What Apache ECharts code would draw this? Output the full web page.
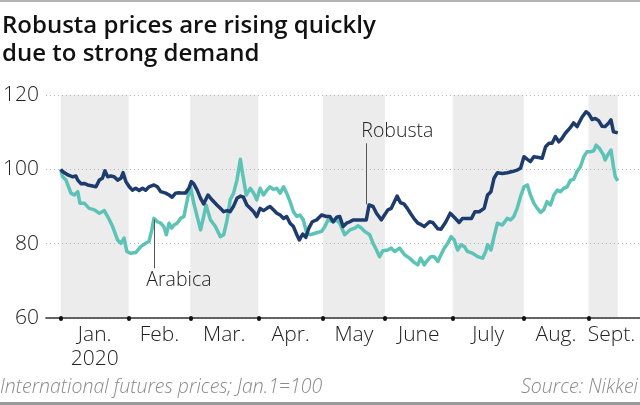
<!DOCTYPE html>
<html><head><meta charset="utf-8">
<script src="https://cdn.jsdelivr.net/npm/echarts@6/dist/echarts.min.js"></script>
<style>html,body{margin:0;padding:0;background:#fff}#c{width:640px;height:405px}</style>
</head><body><div id="c"></div>
<script>
// x = trading-day index since Jan. 1, 2020
const monthNames = ['Jan.\n2020','Feb.','Mar.','Apr.','May','June','July','Aug.','Sept.'];
const monthStarts = [0,22,42,64,85,105,127,150,171,186];
const shadedMonths = [0,2,4,6,8];
const lastDay = 180.5;
const yTicks = [60,80,100,120];

const robusta = [
[0,100],[0.6,99.4],[2.3,98.5],[3.9,98.0],[4.9,98.2],[5.5,97.1],[6.6,96.1],[7.6,96.2],[8.7,95.8],[10.3,95.5],[11.4,95.3],[12.5,97.1],[13.5,97.6],[14.3,99.6],[15.2,98.0],[16.2,98.2],[17.3,98.0],[18.4,97.1],[19.5,97.6],[20.2,99.1],[21.1,96.7],[22.2,95.3],[23.2,94.4],[24.3,94.9],[25.4,94.3],[26.5,94.9],[27.5,94.4],[28.6,95.3],[30.2,95.8],[31.3,95.3],[32.4,94.0],[34.0,93.6],[35.1,93.1],[36.1,92.5],[37.2,93.6],[38.3,93.7],[39.4,93.6],[40.4,93.6],[41.5,94.9],[42.3,96.7],[43.1,96.1],[44.2,94.4],[45.3,92.2],[46.3,90.7],[47.7,93.1],[49.0,91.8],[50.6,90.4],[51.7,89.5],[52.8,88.6],[53.9,88.9],[54.9,88.6],[56.0,90.1],[57.1,92.2],[58.2,92.8],[59.2,92.5],[60.3,90.4],[61.4,89.5],[62.5,88.6],[63.5,87.3],[64.6,89.5],[65.7,88.9],[66.8,89.5],[67.8,90.0],[68.9,89.1],[70.0,88.2],[71.1,87.7],[72.2,86.8],[73.2,87.3],[74.3,85.5],[75.4,84.6],[76.5,82.4],[77.3,81.0],[78.4,82.6],[79.4,81.7],[80.4,84.2],[81.5,85.9],[82.9,86.4],[84.5,87.7],[86.1,87.3],[87.2,87.3],[88.3,85.9],[89.4,87.1],[90.4,87.3],[91.5,84.6],[92.6,85.5],[93.7,85.9],[94.7,86.4],[96.3,86.4],[98.0,86.4],[99.0,86.4],[99.9,90.4],[101.2,90.0],[102.3,88.2],[103.9,86.4],[104.9,87.7],[106.0,89.1],[107.1,89.5],[109.0,92.8],[110.1,91.0],[111.2,90.7],[112.3,89.5],[113.3,88.2],[114.6,86.6],[115.7,85.5],[116.8,85.1],[117.8,84.6],[119.5,85.9],[120.5,85.7],[122.2,84.0],[123.2,83.9],[124.8,85.9],[126.2,88.2],[127.5,87.1],[129.1,85.7],[130.2,86.8],[131.8,86.8],[133.1,86.8],[134.2,88.6],[135.6,88.6],[137.2,89.5],[138.3,93.1],[139.4,94.0],[140.4,97.6],[141.5,99.1],[143.1,98.9],[144.7,99.1],[146.3,99.4],[147.9,99.8],[149.0,100.3],[150.1,103.4],[151.2,102.7],[152.2,102.1],[153.3,103.4],[154.9,103.2],[156.0,103.0],[157.1,106.1],[158.2,107.0],[159.2,107.0],[160.3,108.8],[161.4,107.4],[162.4,108.3],[163.5,109.7],[164.9,111.0],[166.2,112.5],[167.3,111.5],[168.9,114.0],[170.2,115.5],[171.1,114.9],[172.2,113.4],[173.2,113.7],[174.3,113.1],[175.4,111.6],[176.4,111.5],[177.5,112.4],[178.3,113.3],[179.1,110.1],[180.5,109.8]
];

const arabica = [
[0,100],[0.6,98.0],[1.7,97.1],[3.3,93.6],[4.4,93.1],[5.5,94.0],[6.2,90.9],[7.6,90.9],[9.2,89.5],[10.9,89.1],[12.5,88.2],[14.1,88.9],[15.2,87.3],[16.8,84.6],[18.4,81.0],[19.5,80.1],[20.5,81.5],[21.4,77.9],[22.7,77.4],[24.3,77.6],[25.9,79.2],[27.5,80.1],[28.6,80.6],[29.5,83.7],[30.2,86.8],[31.3,85.9],[32.4,85.5],[33.4,84.6],[34.2,82.4],[35.1,85.5],[35.9,84.2],[36.7,85.0],[37.7,85.5],[38.8,86.8],[39.9,87.3],[41.0,91.8],[42.0,95.5],[43.1,90.9],[45.3,83.7],[46.3,87.3],[47.1,90.4],[48.5,86.4],[50.1,84.6],[51.7,81.9],[52.8,82.4],[53.9,86.4],[54.9,91.8],[56.0,93.6],[57.1,97.1],[58.2,102.7],[58.9,98.9],[60.1,93.1],[61.4,94.9],[62.5,93.6],[63.5,91.8],[64.6,94.9],[65.7,93.1],[66.8,94.4],[67.8,95.3],[68.9,94.6],[70.0,94.9],[71.1,93.6],[72.2,95.3],[73.2,93.6],[74.3,91.3],[75.4,88.6],[76.5,87.3],[77.5,87.7],[78.6,86.4],[79.7,82.8],[80.8,82.4],[82.4,82.8],[84.5,83.3],[85.6,84.6],[86.6,86.4],[88.3,85.9],[89.4,86.4],[90.4,85.5],[92.0,82.4],[93.7,83.7],[95.3,84.2],[96.3,84.8],[97.4,84.2],[98.5,83.3],[100.1,82.4],[101.2,80.1],[102.3,78.3],[103.3,76.5],[104.4,78.1],[106.0,78.3],[107.1,78.8],[108.2,77.9],[109.8,78.8],[111.4,77.0],[113.0,76.1],[114.6,74.9],[115.7,74.3],[116.6,76.1],[117.8,74.3],[118.9,75.6],[119.9,76.5],[121.0,76.5],[122.2,75.2],[123.2,77.0],[124.3,78.8],[125.4,80.1],[126.5,81.9],[127.5,81.0],[128.6,78.3],[129.7,79.7],[130.8,79.2],[131.8,77.9],[133.5,77.4],[135.1,76.5],[136.7,76.1],[137.7,77.9],[138.3,79.7],[139.4,78.3],[140.4,81.9],[141.5,85.5],[143.1,85.0],[144.7,86.8],[145.8,86.4],[146.8,87.3],[147.9,89.5],[149.0,92.7],[150.1,95.3],[151.2,95.8],[152.2,93.1],[153.3,90.9],[154.4,89.5],[155.5,88.4],[156.5,89.1],[157.6,91.3],[158.7,90.4],[159.8,93.1],[160.9,94.4],[161.9,94.0],[163.0,94.9],[164.1,95.3],[165.2,97.1],[166.2,97.3],[167.3,99.4],[168.4,100.7],[169.5,103.4],[170.5,104.7],[171.6,104.7],[172.7,105.0],[173.5,106.5],[174.6,105.6],[175.9,103.8],[176.4,102.5],[177.2,103.8],[178.3,105.2],[179.1,100.7],[179.7,98.0],[180.5,96.9]
];

const labelFont = '"Open Sans", Lato, sans-serif';
const titleFont = '"Open Sans", Lato, sans-serif';
const mids = monthNames.map((n, k) => (monthStarts[k] + monthStarts[k + 1]) / 2);
const tickVals = monthStarts.slice(0, 9);
const bands = shadedMonths.map(k => [
  { xAxis: monthStarts[k], yAxis: 60 },
  { xAxis: Math.min(monthStarts[k + 1], lastDay), yAxis: 120 }
]);

const chart = echarts.init(document.getElementById('c'), null, { renderer: 'canvas' });
chart.setOption({
  animation: false,
  backgroundColor: '#fff',
  grid: { left: 43, right: 0, top: 95, bottom: 87, containLabel: false },
  xAxis: {
    type: 'value', min: -4.8, max: 187.7, z: 1.5,
    splitLine: { show: false },
    axisLine: { show: true, onZero: false, lineStyle: { color: '#333', width: 1.5 } },
    axisTick: { show: true, customValues: tickVals, length: 1, lineStyle: { color: '#111', width: 4, cap: 'round' } },
    axisLabel: {
      show: true, customValues: mids, margin: 5,
      fontFamily: labelFont, fontWeight: 300, fontSize: 21, color: '#222', lineHeight: 24,
      formatter: v => monthNames[mids.indexOf(v)] || ''
    }
  },
  yAxis: {
    type: 'value', min: 60, max: 120, interval: 20, z: 1.5,
    axisLine: { show: false }, axisTick: { show: false },
    axisLabel: { margin: 7, fontFamily: labelFont, fontWeight: 300, fontSize: 21, color: '#222',
      formatter: v => yTicks.includes(v) ? String(v) : '' },
    splitLine: { show: true, lineStyle: { color: '#b5b5b5', type: [1, 3], width: 1 } }
  },
  series: [
    {
      name: 'Arabica', type: 'line', data: arabica, z: 3, showSymbol: false, symbol: 'none',
      lineStyle: { color: '#5cc3b6', width: 3.5, join: 'round' },
      markArea: { silent: true, z: 1, itemStyle: { color: '#ececec' }, data: bands },
      markLine: { silent: true, symbol: 'none', label: { show: false },
        lineStyle: { color: '#555', width: 1, type: 'solid' },
        data: [[{ coord: [30.2, 86.5] }, { coord: [30.2, 73.4] }]] },
      markPoint: { silent: true, symbol: 'rect', symbolSize: 0,
        data: [{ coord: [27.7, 70.2], label: { show: true, position: 'right', distance: 0,
          formatter: 'Arabica', fontFamily: labelFont, fontWeight: 300, fontSize: 19.5, color: '#222' } }] }
    },
    {
      name: 'Robusta', type: 'line', data: robusta, z: 4, showSymbol: false, symbol: 'none',
      lineStyle: { color: '#1d3b6c', width: 3.5, join: 'round' },
      markLine: { silent: true, symbol: 'none', label: { show: false },
        lineStyle: { color: '#555', width: 1, type: 'solid' },
        data: [[{ coord: [99, 90.6] }, { coord: [99, 107.0] }]] },
      markPoint: { silent: true, symbol: 'rect', symbolSize: 0,
        data: [{ coord: [97.4, 110.3], label: { show: true, position: 'right', distance: 0,
          formatter: 'Robusta', fontFamily: labelFont, fontWeight: 300, fontSize: 19.5, color: '#222' } }] }
    }
  ],
  graphic: [
    { type: 'rect', left: 0, top: 0, shape: { width: 640, height: 2 }, style: { fill: '#b3b3b3' } },
    { type: 'rect', left: 0, top: 402, shape: { width: 640, height: 3 }, style: { fill: '#9a9a9a' } },
    { type: 'text', left: 2, top: 12, style: {
      text: 'Robusta prices are rising quickly\ndue to strong demand',
      fontFamily: titleFont, fontWeight: 600, fontSize: 24, lineHeight: 28, fill: '#111' } },
    { type: 'text', left: 0, top: 377, style: {
      text: 'International futures prices; Jan.1=100',
      fontFamily: labelFont, fontStyle: 'italic', fontWeight: 300, fontSize: 19.5, fill: '#8a8a8a' } },
    { type: 'text', right: 2, top: 377, style: {
      text: 'Source: Nikkei',
      fontFamily: labelFont, fontStyle: 'italic', fontWeight: 300, fontSize: 19.5, fill: '#8a8a8a' } }
  ]
});
</script></body></html>
